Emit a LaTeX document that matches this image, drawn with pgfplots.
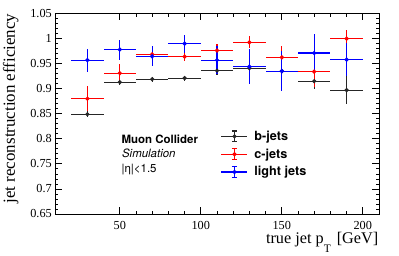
\documentclass[border=0pt]{standalone}
\usepackage{fontspec}
\setmainfont{Liberation Serif}
\setsansfont{TeX Gyre Heros}
\usepackage{pgfplots}
\usepackage{pgfplotstable}
\pgfplotsset{compat=1.18}

\pgfplotstableread{
x y ex ey
30 0.849 10 0.006
50 0.913 10 0.006
70 0.919 10 0.005
90 0.921 10 0.005
110 0.936 10 0.008
130 0.941 10 0.010
150 0.935 10 0.010
170 0.915 10 0.015
190 0.897 10 0.028
}\bjets
\pgfplotstableread{
x y ex ey
30 0.880 10 0.025
50 0.931 10 0.018
70 0.9685 10 0.010
90 0.964 10 0.008
110 0.976 10 0.014
130 0.9925 10 0.012
150 0.9625 10 0.022
170 0.934 10 0.030
190 1.000 10 0.017
}\cjets
\pgfplotstableread{
x y ex ey
30 0.957 10 0.023
50 0.978 10 0.020
70 0.9645 10 0.020
90 0.990 10 0.018
110 0.957 10 0.028
130 0.944 10 0.035
150 0.935 10 0.040
170 0.971 10 0.038
190 0.958 10 0.033
}\ljets

\begin{document}
\begin{tikzpicture}
\begin{axis}[
  scale only axis,
  width=324bp, height=200.5bp,
  xmin=10, xmax=210, ymin=0.65, ymax=1.05,
  xtick={50,100,150,200},
  ytick={0.65,0.7,0.75,0.8,0.85,0.9,0.95,1,1.05},
  yticklabels={0.65,0.7,0.75,0.8,0.85,0.9,0.95,1,1.05},
  minor x tick num=4, minor y tick num=4,
  tick align=inside,
  major tick length=7bp, minor tick length=3.5bp,
  axis line style={line width=0.9bp},
  every tick/.style={black, line width=0.8bp},
  /pgf/number format/assume math mode=true,
  ticklabel style={font=\fontsize{12.3}{14}\selectfont, inner sep=0pt},
  xticklabel style={yshift=-7bp},
  yticklabel style={xshift=-3bp},
  xlabel={true jet p\raisebox{-9bp}{\fontsize{11.5}{12}\selectfont T}\hspace{2bp} [GeV]},
  ylabel={jet reconstruction efficiency},
  xlabel style={at={(axis description cs:1,-0.1455)}, anchor=base east, font=\fontsize{16.3}{19}\selectfont, inner sep=0pt, xshift=-0.5bp},
  ylabel style={at={(axis description cs:-0.1235,1)}, anchor=base east, font=\fontsize{17}{19}\selectfont, inner sep=0pt},
  legend style={at={(axis description cs:0.5114,0.4175)}, anchor=north west, draw=none, fill=none,
     inner sep=0pt, row sep=6bp,
     font=\sffamily\bfseries\fontsize{12.7}{14}\selectfont,
     nodes={inner sep=0pt},
     /tikz/every odd column/.style={column sep=6.3bp}},
  legend cell align=left,
  legend image code/.code={
    \draw[#1, mark=none] (0bp,0bp) -- (26bp,0bp);
    \draw[#1, mark=none] (13bp,-5.3bp) -- (13bp,5.3bp);
    \draw[#1, mark=none] (10.5bp,-5.3bp) -- (15.5bp,-5.3bp);
    \draw[#1, mark=none] (10.5bp,5.3bp) -- (15.5bp,5.3bp);
    \draw[#1] plot coordinates {(13bp,0bp)};
  },
  mystyle/.style={only marks, mark=*, mark size=1.5bp, line width=1.2bp, color=#1, draw=#1,
    mark options={fill=#1, draw=#1},
    error bars/x dir=both, error bars/x explicit, error bars/y dir=both, error bars/y explicit,
    error bars/error mark=none, error bars/error bar style={line width=1.2bp, draw=#1, color=#1}},
]
\addplot[mystyle=black!85] table[x=x,y=y,x error=ex,y error=ey] {\bjets};
\addlegendentry{b-jets}
\addplot[mystyle=red] table[x=x,y=y,x error=ex,y error=ey] {\cjets};
\addlegendentry{c-jets}
\addplot[mystyle=blue] table[x=x,y=y,x error=ex,y error=ey] {\ljets};
\addlegendentry{light jets}

\node[anchor=base west, inner sep=0pt, font=\sffamily\bfseries\fontsize{11.5}{13}\selectfont] at (axis cs:51,0.7915) {Muon Collider};
\node[anchor=base west, inner sep=0pt, font=\sffamily\itshape\fontsize{11.5}{13}\selectfont] at (axis cs:51.3,0.7622) {Simulation};
\node[anchor=base west, inner sep=0pt, font=\sffamily\fontsize{11.5}{13}\selectfont] at (axis cs:51,0.7336) {|η|<1.5};
\end{axis}
\pgfresetboundingbox
\useasboundingbox (-55bp,-42bp) rectangle (344bp,214bp);
\end{tikzpicture}
\end{document}
